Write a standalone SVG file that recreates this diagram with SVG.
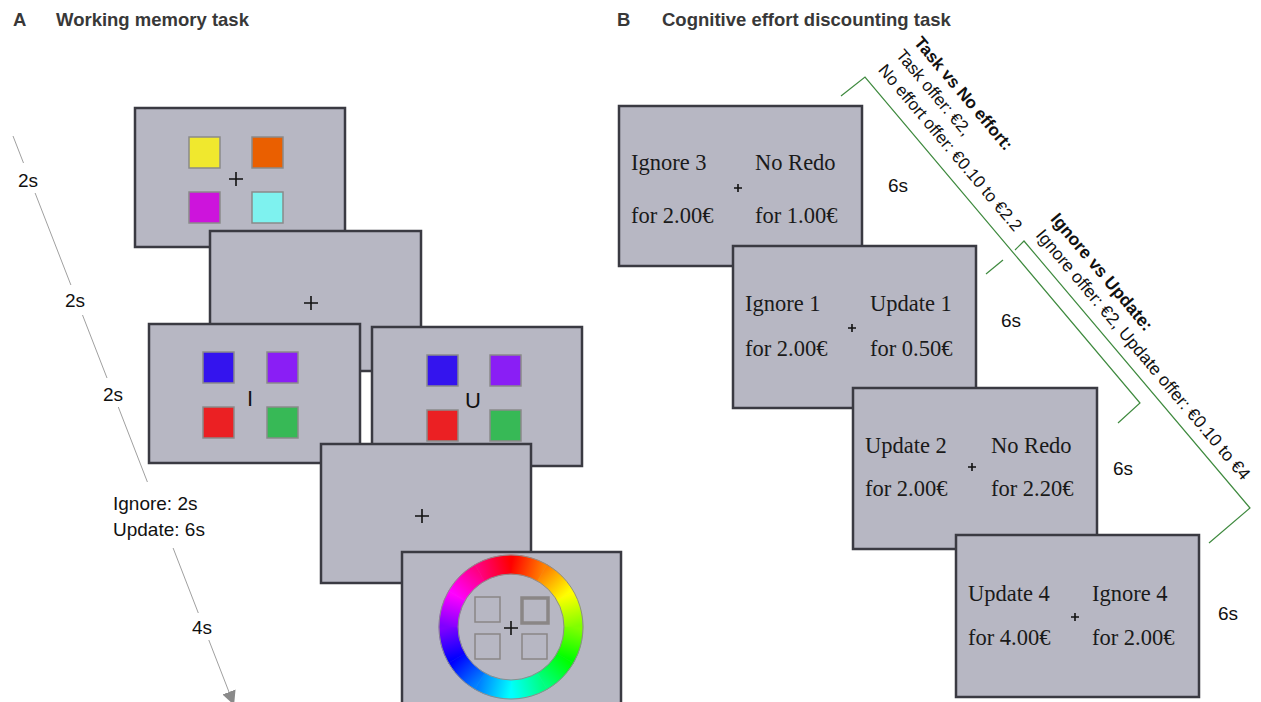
<svg xmlns="http://www.w3.org/2000/svg" width="1261" height="702" viewBox="0 0 1261 702">
<style>
.scr{fill:#b7b7c3;stroke:#3a3a42;stroke-width:2.5}
.sq{stroke:#8a8a8a;stroke-width:1.5}
.cross{stroke:#111;stroke-width:1.6;fill:none}
.sans{font-family:"Liberation Sans",Arial,sans-serif}
.title{font-size:18.5px;font-weight:bold;fill:#383838}
.time{font-size:19px;fill:#111}
.offer{font-family:"Liberation Serif","Times New Roman",serif;font-size:22.5px;fill:#1a1a1a}
.brk{stroke:#3f8a3f;stroke-width:1.2;fill:none}
.tl{stroke:#a0a0a0;stroke-width:1;fill:none}
.lbl{font-family:"Liberation Sans",Arial,sans-serif;fill:#111}
.ring{stroke:#8c8c8c;stroke-width:1;fill:none}
.seg{stroke-width:0.6}
</style>
<defs>
<marker id="arr" markerWidth="14" markerHeight="14" refX="0" refY="7" orient="auto" markerUnits="userSpaceOnUse">
<path d="M0,0 L14,7 L0,14 Z" fill="#8a8a8a"/>
</marker>
<linearGradient id="g0" gradientUnits="userSpaceOnUse" x1="511" y1="564.5" x2="542.25" y2="572.9"><stop offset="0" stop-color="#ff0000"/><stop offset="1" stop-color="#ff8000"/></linearGradient>
<linearGradient id="g1" gradientUnits="userSpaceOnUse" x1="542.25" y1="572.9" x2="565.1" y2="595.75"><stop offset="0" stop-color="#ff8000"/><stop offset="1" stop-color="#ffff00"/></linearGradient>
<linearGradient id="g2" gradientUnits="userSpaceOnUse" x1="565.1" y1="595.75" x2="573.5" y2="627"><stop offset="0" stop-color="#ffff00"/><stop offset="1" stop-color="#80ff00"/></linearGradient>
<linearGradient id="g3" gradientUnits="userSpaceOnUse" x1="573.5" y1="627" x2="565.1" y2="658.25"><stop offset="0" stop-color="#80ff00"/><stop offset="1" stop-color="#00ff00"/></linearGradient>
<linearGradient id="g4" gradientUnits="userSpaceOnUse" x1="565.1" y1="658.25" x2="542.25" y2="681.1"><stop offset="0" stop-color="#00ff00"/><stop offset="1" stop-color="#00ff80"/></linearGradient>
<linearGradient id="g5" gradientUnits="userSpaceOnUse" x1="542.25" y1="681.1" x2="511" y2="689.5"><stop offset="0" stop-color="#00ff80"/><stop offset="1" stop-color="#00ffff"/></linearGradient>
<linearGradient id="g6" gradientUnits="userSpaceOnUse" x1="511" y1="689.5" x2="479.75" y2="681.1"><stop offset="0" stop-color="#00ffff"/><stop offset="1" stop-color="#0080ff"/></linearGradient>
<linearGradient id="g7" gradientUnits="userSpaceOnUse" x1="479.75" y1="681.1" x2="456.9" y2="658.25"><stop offset="0" stop-color="#0080ff"/><stop offset="1" stop-color="#0000ff"/></linearGradient>
<linearGradient id="g8" gradientUnits="userSpaceOnUse" x1="456.9" y1="658.25" x2="448.5" y2="627"><stop offset="0" stop-color="#0000ff"/><stop offset="1" stop-color="#8000ff"/></linearGradient>
<linearGradient id="g9" gradientUnits="userSpaceOnUse" x1="448.5" y1="627" x2="456.9" y2="595.75"><stop offset="0" stop-color="#8000ff"/><stop offset="1" stop-color="#ff00ff"/></linearGradient>
<linearGradient id="g10" gradientUnits="userSpaceOnUse" x1="456.9" y1="595.75" x2="479.75" y2="572.9"><stop offset="0" stop-color="#ff00ff"/><stop offset="1" stop-color="#ff0080"/></linearGradient>
<linearGradient id="g11" gradientUnits="userSpaceOnUse" x1="479.75" y1="572.9" x2="511" y2="564.5"><stop offset="0" stop-color="#ff0080"/><stop offset="1" stop-color="#ff0000"/></linearGradient>
</defs>
<rect width="1261" height="702" fill="#ffffff"/>

<g id="titles" class="sans title">
<text x="13" y="26">A</text>
<text x="56" y="26">Working memory task</text>
<text x="617" y="26">B</text>
<text x="662" y="26">Cognitive effort discounting task</text>
</g>

<g id="connectors">
<g id="timeline" class="tl">
<line x1="13" y1="136" x2="23.5" y2="163"/>
<line x1="35.1" y1="193" x2="70.9" y2="285"/>
<line x1="82.5" y1="315" x2="107" y2="378"/>
<line x1="118.3" y1="407" x2="147.4" y2="482"/>
<line x1="173.1" y1="548" x2="198.3" y2="613"/>
<line x1="208.8" y1="640" x2="229" y2="692" marker-end="url(#arr)"/>
</g>
<g id="brackets" class="brk">
<path d="M841,96 L865,77 L1140,403 L1118,423"/>
<path d="M986,274 L1003,260"/>
<path d="M1015,250 L1024,241 L1250,508 L1209,543"/>
</g>
</g>

<g id="timeline-labels" class="lbl time">
<text x="18" y="187">2s</text>
<text x="65" y="307">2s</text>
<text x="103" y="401">2s</text>
<text x="113" y="510">Ignore: 2s</text>
<text x="113" y="536">Update: 6s</text>
<text x="192" y="634">4s</text>
</g>

<g id="wm-encoding">
<rect class="scr" x="135" y="108" width="210" height="139"/>
<rect class="sq" x="189" y="137" width="31" height="31" fill="#f0e82e"/>
<rect class="sq" x="252" y="137" width="31" height="31" fill="#ea5f00"/>
<rect class="sq" x="189" y="192" width="31" height="31" fill="#cd14dc"/>
<rect class="sq" x="252" y="192" width="31" height="31" fill="#7ef2ef"/>
<path class="cross" d="M229,179 H243 M236,172 V186"/>
</g>

<g id="wm-delay1">
<rect class="scr" x="210" y="231" width="211" height="140"/>
<path class="cross" d="M304,303 H318 M311,296 V310"/>
</g>

<g id="wm-ignore">
<rect class="scr" x="149" y="324" width="211" height="139"/>
<rect class="sq" x="203" y="352" width="31" height="31" fill="#3414ee"/>
<rect class="sq" x="267" y="352" width="31" height="31" fill="#8a1ef5"/>
<rect class="sq" x="203" y="407" width="31" height="31" fill="#eb2023"/>
<rect class="sq" x="267" y="407" width="31" height="31" fill="#37b956"/>
<text class="lbl" x="250" y="406" font-size="22" text-anchor="middle">I</text>
</g>

<g id="wm-update">
<rect class="scr" x="372" y="327" width="210" height="139"/>
<rect class="sq" x="427" y="355" width="31" height="31" fill="#3414ee"/>
<rect class="sq" x="490" y="355" width="31" height="31" fill="#8a1ef5"/>
<rect class="sq" x="427" y="410" width="31" height="31" fill="#eb2023"/>
<rect class="sq" x="490" y="410" width="31" height="31" fill="#37b956"/>
<text class="lbl" x="473" y="408" font-size="22" text-anchor="middle">U</text>
</g>

<g id="wm-delay2">
<rect class="scr" x="321" y="444" width="210" height="139"/>
<path class="cross" d="M415,516 H429 M422,509 V523"/>
</g>

<g id="wm-probe">
<rect class="scr" x="402" y="552" width="219" height="160"/>
<g id="wheel">
<path class="seg" fill="url(#g0)" stroke="url(#g0)" d="M511,555 A72,72 0 0 1 547,564.65 L537.5,581.1 A53,53 0 0 0 511,574 Z"/>
<path class="seg" fill="url(#g1)" stroke="url(#g1)" d="M547,564.65 A72,72 0 0 1 573.35,591 L556.9,600.5 A53,53 0 0 0 537.5,581.1 Z"/>
<path class="seg" fill="url(#g2)" stroke="url(#g2)" d="M573.35,591 A72,72 0 0 1 583,627 L564,627 A53,53 0 0 0 556.9,600.5 Z"/>
<path class="seg" fill="url(#g3)" stroke="url(#g3)" d="M583,627 A72,72 0 0 1 573.35,663 L556.9,653.5 A53,53 0 0 0 564,627 Z"/>
<path class="seg" fill="url(#g4)" stroke="url(#g4)" d="M573.35,663 A72,72 0 0 1 547,689.35 L537.5,672.9 A53,53 0 0 0 556.9,653.5 Z"/>
<path class="seg" fill="url(#g5)" stroke="url(#g5)" d="M547,689.35 A72,72 0 0 1 511,699 L511,680 A53,53 0 0 0 537.5,672.9 Z"/>
<path class="seg" fill="url(#g6)" stroke="url(#g6)" d="M511,699 A72,72 0 0 1 475,689.35 L484.5,672.9 A53,53 0 0 0 511,680 Z"/>
<path class="seg" fill="url(#g7)" stroke="url(#g7)" d="M475,689.35 A72,72 0 0 1 448.65,663 L465.1,653.5 A53,53 0 0 0 484.5,672.9 Z"/>
<path class="seg" fill="url(#g8)" stroke="url(#g8)" d="M448.65,663 A72,72 0 0 1 439,627 L458,627 A53,53 0 0 0 465.1,653.5 Z"/>
<path class="seg" fill="url(#g9)" stroke="url(#g9)" d="M439,627 A72,72 0 0 1 448.65,591 L465.1,600.5 A53,53 0 0 0 458,627 Z"/>
<path class="seg" fill="url(#g10)" stroke="url(#g10)" d="M448.65,591 A72,72 0 0 1 475,564.65 L484.5,581.1 A53,53 0 0 0 465.1,600.5 Z"/>
<path class="seg" fill="url(#g11)" stroke="url(#g11)" d="M475,564.65 A72,72 0 0 1 511,555 L511,574 A53,53 0 0 0 484.5,581.1 Z"/>
<circle class="ring" cx="511" cy="627" r="72"/>
<circle class="ring" cx="511" cy="627" r="53"/>
</g>
<rect x="475" y="597" width="25" height="25" fill="none" stroke="#8a8686" stroke-width="1.5"/>
<rect x="522" y="598" width="26" height="25" fill="none" stroke="#8a8686" stroke-width="3.5"/>
<rect x="475" y="634" width="25" height="25" fill="none" stroke="#8a8686" stroke-width="1.5"/>
<rect x="522" y="634" width="25" height="25" fill="none" stroke="#8a8686" stroke-width="1.5"/>
<path class="cross" d="M504,628 H518 M511,621 V635"/>
</g>

<g id="cedt-offer1">
<rect class="scr" x="619" y="106" width="243" height="160"/>
<text class="offer" x="631" y="170">Ignore 3</text>
<text class="offer" x="631" y="223">for 2.00€</text>
<text class="offer" x="755" y="170">No Redo</text>
<text class="offer" x="755" y="223">for 1.00€</text>
<path class="cross" stroke-width="1.1" d="M734,188 H742 M738,184 V192"/>
<text class="lbl time" x="888" y="192">6s</text>
</g>

<g id="cedt-offer2">
<rect class="scr" x="733" y="246" width="243" height="162"/>
<text class="offer" x="745" y="311">Ignore 1</text>
<text class="offer" x="745" y="356">for 2.00€</text>
<text class="offer" x="870" y="311">Update 1</text>
<text class="offer" x="870" y="356">for 0.50€</text>
<path class="cross" stroke-width="1.1" d="M848,328 H856 M852,324 V332"/>
<text class="lbl time" x="1001" y="327">6s</text>
</g>

<g id="cedt-offer3">
<rect class="scr" x="853" y="388" width="244" height="161"/>
<text class="offer" x="865" y="453">Update 2</text>
<text class="offer" x="865" y="496">for 2.00€</text>
<text class="offer" x="991" y="453">No Redo</text>
<text class="offer" x="991" y="496">for 2.20€</text>
<path class="cross" stroke-width="1.1" d="M968,467 H976 M972,463 V471"/>
<text class="lbl time" x="1113" y="475">6s</text>
</g>

<g id="cedt-offer4">
<rect class="scr" x="956" y="535" width="243" height="162"/>
<text class="offer" x="968" y="601">Update 4</text>
<text class="offer" x="968" y="645">for 4.00€</text>
<text class="offer" x="1092" y="601">Ignore 4</text>
<text class="offer" x="1092" y="645">for 2.00€</text>
<path class="cross" stroke-width="1.1" d="M1071,617 H1079 M1075,613 V621"/>
<text class="lbl time" x="1218" y="620">6s</text>
</g>

<g id="bracket-labels" class="lbl">
<text transform="translate(913.3,42.8) rotate(49.85)" font-size="17" font-weight="bold">Task vs No effort:</text>
<text transform="translate(895.2,55.4) rotate(49.85)" font-size="17">Task offer: €2,</text>
<text transform="translate(877.6,70.3) rotate(49.85)" font-size="17">No effort offer: €0.10 to €2.2</text>
<text transform="translate(1049.8,219.3) rotate(49.85)" font-size="17.5" font-weight="bold">Ignore vs Update:</text>
<text transform="translate(1035.1,235.6) rotate(49.85)" font-size="17.5">Ignore offer: €2, Update offer: €0.10 to €4</text>
</g>
</svg>
